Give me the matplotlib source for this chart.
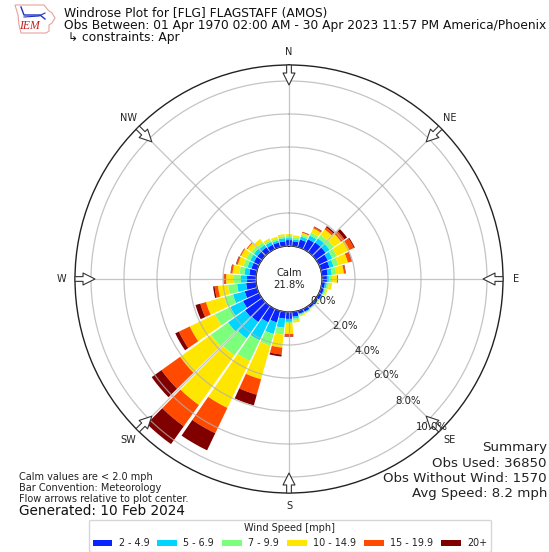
import numpy as np
import matplotlib
matplotlib.use("Agg")
import matplotlib.pyplot as plt
from matplotlib.patches import Patch, Polygon

directions = [d * 10 for d in range(36)]
blue = [.36,.30,.48,.67,.73,.73,.61,.55,.36,.30,.19,.19,.19,.12,.15,.19,.19,.30,.42,.42,.73,.91,1.21,1.27,1.09,.79,.61,.55,.42,.36,.36,.36,.36,.30,.30,.30]
cyan = [.12,.12,.19,.25,.30,.30,.30,.25,.25,.12,.12,.06,.06,.06,.04,.06,.06,.12,.18,.55,.73,1.21,1.21,1.27,.85,.73,.55,.36,.30,.25,.25,.25,.19,.19,.12,.19]
green = [.12,.12,.12,.19,.25,.30,.30,.30,.25,.19,.12,.09,.03,.03,.02,.03,.06,.12,.12,.42,.73,1.39,1.27,1.27,1.03,.55,.55,.42,.30,.25,.25,.19,.19,.12,.12,.12]
yellow = [.12,.12,.12,.30,.42,.55,.85,.61,.48,.30,.19,.09,.03,.03,.02,.03,.06,.12,.61,.79,2.12,3.15,3.70,2.30,1.70,1.15,.61,.48,.42,.36,.36,.30,.25,.12,.12,.12]
orange = [0,0,.04,.09,.15,.25,.30,.22,.09,.04,0,0,0,0,0,0,0,0,.15,.42,.97,1.70,1.58,1.39,.73,.36,.21,.12,.09,.09,.06,.06,0,0,0,0]
dark = [0,0,.02,.03,.09,.19,.06,.03,.03,.02,0,0,0,0,0,0,0,0,.03,.12,.67,1.15,1.33,.73,.24,.30,.09,.03,.03,.03,.01,0,0,0,0,0]
series = [blue, cyan, green, yellow, orange, dark]
speed_labels = ["2 - 4.9", "5 - 6.9", "7 - 9.9", "10 - 14.9", "15 - 19.9", "20+"]
colors = ["#0a24ff", "#00d4ff", "#7cff7a", "#ffe600", "#ff4a00", "#800000"]
compass = ["N", "NE", "E", "SE", "S", "SW", "W", "NW"]
rticks = [0, 2, 4, 6, 8, 10]
rlabel_offsets_px = [(11, 1), (9, 0), (8, -2), (4, -3), (2, -5), (3, -8)]

W, H = 549, 552
R_ORIGIN = -2.0
R_MAX = 10.97

fig = plt.figure(figsize=(W / 100, H / 100), dpi=100)
ax = fig.add_axes([75 / W, (H - 493) / H, 428 / W, 428 / H], projection="polar")
ax.set_theta_zero_location("N")
ax.set_theta_direction(-1)
ax.set_axisbelow(False)

theta = np.deg2rad(directions)
bottom = np.zeros(len(directions))
for vals, c in zip(series, colors):
    ax.bar(theta, vals, width=np.deg2rad(8.9), bottom=bottom, color=c, linewidth=0, zorder=1)
    bottom += np.array(vals)

ax.set_rorigin(R_ORIGIN)
ax.set_rlim(0, R_MAX)
ax.set_xticks(np.deg2rad(np.arange(0, 360, 45)))
ax.set_xticklabels(compass, fontsize=7, color="#222222")
ax.tick_params(axis="x", pad=-1)
ax.set_yticks(rticks)
ax.set_yticklabels([])
ax.grid(color="#b0b0b0", lw=0.9, alpha=0.75)
ax.spines["polar"].set_linewidth(1)
ax.spines["polar"].set_color("#222222")

for a in np.arange(0, 360, 45):
    ax.annotate("", xy=(np.deg2rad(a), 9.76), xytext=(np.deg2rad(a), R_MAX),
                annotation_clip=False,
                arrowprops=dict(facecolor="white", edgecolor="#333333", lw=0.8,
                                width=3.4, headwidth=8.6, headlength=8.6, shrink=0),
                zorder=7)

for v, (dx, dy) in zip(rticks, rlabel_offsets_px):
    ax.annotate(f"{v:.1f}%", xy=(np.deg2rad(135), v), xytext=(dx * 0.72, dy * 0.72),
                textcoords="offset points", ha="center", va="center",
                fontsize=7.3, color="#222222", zorder=8)

fig.text(289 / W, 1 - 273 / H, "Calm", ha="center", va="center", fontsize=7.2, color="#222222")
fig.text(289 / W, 1 - 284.5 / H, "21.8%", ha="center", va="center", fontsize=7.2, color="#222222")

fig.text(64.5 / W, 1 - 13.5 / H, "Windrose Plot for [FLG] FLAGSTAFF (AMOS)", fontsize=8.8, va="center", color="#111111")
fig.text(64.5 / W, 1 - 25.5 / H, "Obs Between: 01 Apr 1970 02:00 AM - 30 Apr 2023 11:57 PM America/Phoenix", fontsize=8.8, va="center", color="#111111")
fig.text(64.5 / W, 1 - 38 / H, " \u21b3 constraints: Apr", fontsize=8.8, va="center", color="#111111")

for y, s in zip([477, 488, 499], ["Calm values are < 2.0 mph", "Bar Convention: Meteorology", "Flow arrows relative to plot center."]):
    fig.text(19 / W, 1 - y / H, s, fontsize=7.0, va="center", color="#222222")
fig.text(19 / W, 1 - 511 / H, "Generated: 10 Feb 2024", fontsize=9.8, va="center", color="#111111")

for y, s in zip([448, 463.5, 479, 494], ["Summary", "Obs Used: 36850", "Obs Without Wind: 1570", "Avg Speed: 8.2 mph"]):
    fig.text(547 / W, 1 - y / H, s, fontsize=9.65, ha="right", va="center", color="#222222")

handles = [Patch(facecolor=c, label=l) for c, l in zip(colors, speed_labels)]
leg = fig.legend(handles=handles, ncol=6, title="Wind Speed [mph]", fontsize=6.9, title_fontsize=7,
                 loc="lower center", bbox_to_anchor=(290 / W, 0), columnspacing=0.85,
                 handlelength=2.05, handleheight=0.65, handletextpad=0.65, borderaxespad=0)
leg.get_title().set_color("#222222")
for t in leg.get_texts():
    t.set_color("#222222")

logo = fig.add_axes([14 / W, 1 - 34 / H, 42 / W, 30 / H])
logo.set_xlim(0, 42)
logo.set_ylim(30, 0)
logo.axis("off")
iowa_x = [1, 30, 34, 38, 41, 38, 35, 35, 32, 7, 5, 4, 1]
iowa_y = [1, 1, 6, 9, 14, 19, 21, 27, 29, 29, 21, 11, 1]
logo.add_patch(Polygon(np.column_stack([iowa_x, iowa_y]), closed=True, fill=False, edgecolor="#e8a0a0", lw=0.8))
logo.plot([7, 10, 26, 31], [3, 11, 11, 15], color="#2030c0", lw=1.0)
logo.plot([10, 25, 31], [13, 12, 9], color="#2030c0", lw=0.8)
logo.text(15, 22, "IEM", color="#c02020", fontsize=8.5, style="italic", family="Liberation Serif", ha="center", va="center")

fig.savefig("out.png", dpi=100)
